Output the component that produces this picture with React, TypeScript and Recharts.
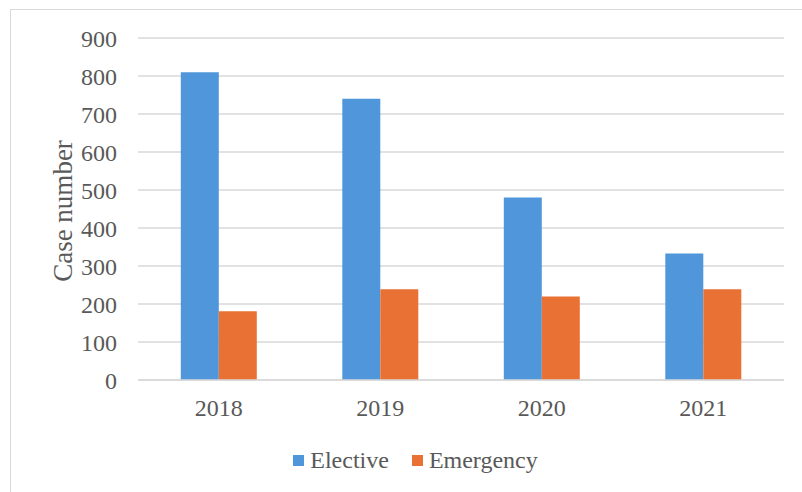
import React from 'react';
import { BarChart, Bar, XAxis, YAxis, CartesianGrid, Legend, Label } from 'recharts';

const categories = ['2018', '2019', '2020', '2021'];
const elective = [810, 740, 480, 333];
const emergency = [181, 239, 220, 239];
const yTicks = [0, 100, 200, 300, 400, 500, 600, 700, 800, 900];
const seriesNames = ['Elective', 'Emergency'];
const seriesColors = ['#4F96DA', '#E97133'];

const data = categories.map((c, i) => ({ year: c, Elective: elective[i], Emergency: emergency[i] }));

const FONT = "'Liberation Serif', 'Times New Roman', serif";
const TEXT = '#595959';

const renderLegend = (props: any) => {
  const payload = props.payload || [];
  return (
    <div
      style={{
        display: 'flex',
        justifyContent: 'center',
        alignItems: 'center',
        paddingLeft: 29,
        fontFamily: FONT,
        fontSize: 24,
        lineHeight: '24px',
        color: TEXT,
      }}
    >
      {payload.map((p: any, i: number) => (
        <div key={i} style={{ display: 'flex', alignItems: 'center', marginRight: i < payload.length - 1 ? 23 : 0 }}>
          <span style={{ display: 'inline-block', width: 11, height: 11, background: p.color, marginRight: 6 }} />
          <span>{p.value}</span>
        </div>
      ))}
    </div>
  );
};

export default function App() {
  return (
    <div style={{ position: 'absolute', left: 0, top: 0, width: 802, height: 492, overflow: 'hidden', background: '#fff' }}>
      <div
        style={{
          position: 'absolute',
          left: 10,
          top: 9,
          width: 900,
          height: 600,
          borderLeft: '1px solid #d9d9d9',
          borderTop: '1px solid #d9d9d9',
        }}
      />
      <div style={{ position: 'absolute', left: 0, top: 0 }}>
        <BarChart
          width={802}
          height={492}
          data={data}
          margin={{ top: 38, right: 18, bottom: 82, left: 0 }}
          barCategoryGap="26.5%"
          barGap={0}
        >
          <CartesianGrid vertical={false} stroke="#d9d9d9" strokeWidth={1.3} />
          <XAxis
            dataKey="year"
            height={30}
            tickLine={false}
            tickSize={0}
            tickMargin={19}
            axisLine={{ stroke: '#d9d9d9', strokeWidth: 1.3 }}
            tick={{ fill: TEXT, fontSize: 24, fontFamily: FONT }}
          />
          <YAxis
            width={138}
            domain={[0, 900]}
            ticks={yTicks}
            interval={0}
            axisLine={false}
            tickLine={false}
            tickSize={0}
            tickMargin={21}
            tick={{ fill: TEXT, fontSize: 24, fontFamily: FONT }}
          >
            <Label
              content={(props: any) => {
                const vb = props.viewBox || { x: 0, y: 38, width: 138, height: 342 };
                const cx = vb.x + 63;
                const cy = vb.y + vb.height / 2 + 2;
                return (
                  <text
                    x={cx}
                    y={cy}
                    transform={`rotate(-90, ${cx}, ${cy})`}
                    textAnchor="middle"
                    dominantBaseline="central"
                    fill={TEXT}
                    fontSize={27}
                    fontFamily={FONT}
                  >
                    Case number
                  </text>
                );
              }}
            />
          </YAxis>
          <Legend
            layout="horizontal"
            verticalAlign="middle"
            align="center"
            content={renderLegend}
            wrapperStyle={{ top: 448, left: 0, width: 802 }}
          />
          <Bar dataKey={seriesNames[0]} fill={seriesColors[0]} isAnimationActive={false} />
          <Bar dataKey={seriesNames[1]} fill={seriesColors[1]} isAnimationActive={false} />
        </BarChart>
      </div>
    </div>
  );
}
